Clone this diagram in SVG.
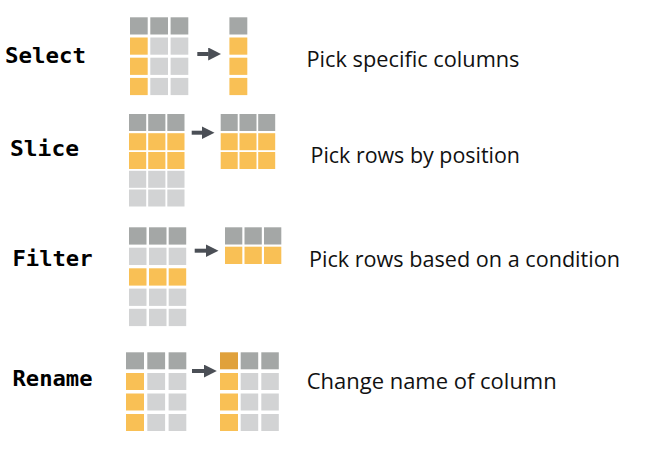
<svg xmlns="http://www.w3.org/2000/svg" width="656" height="456" viewBox="0 0 656 456">
<style>
.h{fill:#A4A7A6}
.l{fill:#D2D3D4}
.o{fill:#F9C055}
.d{fill:#E0A13B}
.lab{font-family:"DejaVu Sans Mono","Liberation Mono",monospace;font-weight:bold;font-size:22px;fill:#000}
.desc{font-family:"Open Sans","Liberation Sans",Arial,sans-serif;font-size:21px;fill:#111}
.arr{stroke:#4B4F56;stroke-width:4;fill:none}
</style>
<defs>
<marker id="ah" markerUnits="userSpaceOnUse" markerWidth="13" markerHeight="13" viewBox="0 0 13 13" refX="0.5" refY="6.5" orient="auto">
<path d="M0,0 L13,6.5 L0,13 z" fill="#4B4F56"/>
</marker>
</defs>
<rect width="656" height="456" fill="#fff"/>

<g id="label-select"><text class="lab" x="5" y="62.5" textLength="81" lengthAdjust="spacingAndGlyphs">Select</text></g>
<g id="label-slice"><text class="lab" x="10" y="155.7" textLength="69" lengthAdjust="spacingAndGlyphs">Slice</text></g>
<g id="label-filter"><text class="lab" x="12.5" y="265.7" textLength="80" lengthAdjust="spacingAndGlyphs">Filter</text></g>
<g id="label-rename"><text class="lab" x="12.5" y="385.7" textLength="80" lengthAdjust="spacingAndGlyphs">Rename</text></g>

<g id="desc-select"><text class="desc" x="306.5" y="66.7" textLength="213" lengthAdjust="spacingAndGlyphs">Pick specific columns</text></g>
<g id="desc-slice"><text class="desc" x="310.5" y="163.3" textLength="209.5" lengthAdjust="spacingAndGlyphs">Pick rows by position</text></g>
<g id="desc-filter"><text class="desc" x="309" y="267.3" textLength="311" lengthAdjust="spacingAndGlyphs">Pick rows based on a condition</text></g>
<g id="desc-rename"><text class="desc" x="306.7" y="388.7" textLength="250" lengthAdjust="spacingAndGlyphs">Change name of column</text></g>

<g id="select-in">
<rect class="h" x="130" y="17.3" width="17.7" height="17.2"/><rect class="h" x="150.3" y="17.3" width="17.7" height="17.2"/><rect class="h" x="170.6" y="17.3" width="17.7" height="17.2"/>
<rect class="o" x="130" y="37.5" width="17.7" height="17.2"/><rect class="l" x="150.3" y="37.5" width="17.7" height="17.2"/><rect class="l" x="170.6" y="37.5" width="17.7" height="17.2"/>
<rect class="o" x="130" y="57.7" width="17.7" height="17.2"/><rect class="l" x="150.3" y="57.7" width="17.7" height="17.2"/><rect class="l" x="170.6" y="57.7" width="17.7" height="17.2"/>
<rect class="o" x="130" y="77.9" width="17.7" height="17.2"/><rect class="l" x="150.3" y="77.9" width="17.7" height="17.2"/><rect class="l" x="170.6" y="77.9" width="17.7" height="17.2"/>
</g>
<g id="select-out">
<rect class="h" x="229.4" y="17.3" width="17.9" height="17.2"/>
<rect class="o" x="229.4" y="37.5" width="17.9" height="17.2"/>
<rect class="o" x="229.4" y="57.7" width="17.9" height="17.2"/>
<rect class="o" x="229.4" y="77.9" width="17.9" height="17.2"/>
</g>

<g id="slice-in">
<rect class="h" x="129" y="114" width="17.2" height="17"/><rect class="h" x="148.2" y="114" width="17.2" height="17"/><rect class="h" x="167.3" y="114" width="17.2" height="17"/>
<rect class="o" x="129" y="133.2" width="17.2" height="17"/><rect class="o" x="148.2" y="133.2" width="17.2" height="17"/><rect class="o" x="167.3" y="133.2" width="17.2" height="17"/>
<rect class="o" x="129" y="152" width="17.2" height="17"/><rect class="o" x="148.2" y="152" width="17.2" height="17"/><rect class="o" x="167.3" y="152" width="17.2" height="17"/>
<rect class="l" x="129" y="170.8" width="17.2" height="17"/><rect class="l" x="148.2" y="170.8" width="17.2" height="17"/><rect class="l" x="167.3" y="170.8" width="17.2" height="17"/>
<rect class="l" x="129" y="189.5" width="17.2" height="17"/><rect class="l" x="148.2" y="189.5" width="17.2" height="17"/><rect class="l" x="167.3" y="189.5" width="17.2" height="17"/>
</g>
<g id="slice-out">
<rect class="h" x="220.7" y="114" width="17" height="17"/><rect class="h" x="239.5" y="114" width="17" height="17"/><rect class="h" x="258.2" y="114" width="17" height="17"/>
<rect class="o" x="220.7" y="133.2" width="17" height="17"/><rect class="o" x="239.5" y="133.2" width="17" height="17"/><rect class="o" x="258.2" y="133.2" width="17" height="17"/>
<rect class="o" x="220.7" y="152" width="17" height="17"/><rect class="o" x="239.5" y="152" width="17" height="17"/><rect class="o" x="258.2" y="152" width="17" height="17"/>
</g>

<g id="filter-in">
<rect class="h" x="129" y="227.3" width="17.5" height="17.3"/><rect class="h" x="149" y="227.3" width="17.5" height="17.3"/><rect class="h" x="168.7" y="227.3" width="17.5" height="17.3"/>
<rect class="l" x="129" y="247.7" width="17.5" height="17.3"/><rect class="l" x="149" y="247.7" width="17.5" height="17.3"/><rect class="l" x="168.7" y="247.7" width="17.5" height="17.3"/>
<rect class="o" x="129" y="268.3" width="17.5" height="17.3"/><rect class="o" x="149" y="268.3" width="17.5" height="17.3"/><rect class="o" x="168.7" y="268.3" width="17.5" height="17.3"/>
<rect class="l" x="129" y="288.6" width="17.5" height="17.3"/><rect class="l" x="149" y="288.6" width="17.5" height="17.3"/><rect class="l" x="168.7" y="288.6" width="17.5" height="17.3"/>
<rect class="l" x="129" y="308.8" width="17.5" height="17.3"/><rect class="l" x="149" y="308.8" width="17.5" height="17.3"/><rect class="l" x="168.7" y="308.8" width="17.5" height="17.3"/>
</g>
<g id="filter-out">
<rect class="h" x="225" y="227.3" width="17.3" height="17.2"/><rect class="h" x="244.5" y="227.3" width="17.3" height="17.2"/><rect class="h" x="264" y="227.3" width="17.3" height="17.2"/>
<rect class="o" x="225" y="246.7" width="17.3" height="17.3"/><rect class="o" x="244.5" y="246.7" width="17.3" height="17.3"/><rect class="o" x="264" y="246.7" width="17.3" height="17.3"/>
</g>

<g id="rename-in">
<rect class="h" x="126" y="352.3" width="18" height="17"/><rect class="h" x="147.3" y="352.3" width="17.8" height="17"/><rect class="h" x="168.6" y="352.3" width="17.7" height="17"/>
<rect class="o" x="126" y="373" width="18" height="17"/><rect class="l" x="147.3" y="373" width="17.8" height="17"/><rect class="l" x="168.6" y="373" width="17.7" height="17"/>
<rect class="o" x="126" y="393.5" width="18" height="17"/><rect class="l" x="147.3" y="393.5" width="17.8" height="17"/><rect class="l" x="168.6" y="393.5" width="17.7" height="17"/>
<rect class="o" x="126" y="414" width="18" height="17"/><rect class="l" x="147.3" y="414" width="17.8" height="17"/><rect class="l" x="168.6" y="414" width="17.7" height="17"/>
</g>
<g id="rename-out">
<rect class="d" x="220" y="352.3" width="18" height="17"/><rect class="h" x="240.7" y="352.3" width="17.5" height="17"/><rect class="h" x="261.3" y="352.3" width="17.5" height="17"/>
<rect class="o" x="220" y="373" width="18" height="17"/><rect class="l" x="240.7" y="373" width="17.5" height="17"/><rect class="l" x="261.3" y="373" width="17.5" height="17"/>
<rect class="o" x="220" y="393.5" width="18" height="17"/><rect class="l" x="240.7" y="393.5" width="17.5" height="17"/><rect class="l" x="261.3" y="393.5" width="17.5" height="17"/>
<rect class="o" x="220" y="414" width="18" height="17"/><rect class="l" x="240.7" y="414" width="17.5" height="17"/><rect class="l" x="261.3" y="414" width="17.5" height="17"/>
</g>

<g id="connectors">
<line class="arr" x1="197.3" y1="54" x2="208.7" y2="54" marker-end="url(#ah)"/>
<line class="arr" x1="191.7" y1="132.7" x2="202" y2="132.7" marker-end="url(#ah)"/>
<line class="arr" x1="194.7" y1="250.7" x2="206" y2="250.7" marker-end="url(#ah)"/>
<line class="arr" x1="192" y1="371" x2="204.3" y2="371" marker-end="url(#ah)"/>
</g>
</svg>
